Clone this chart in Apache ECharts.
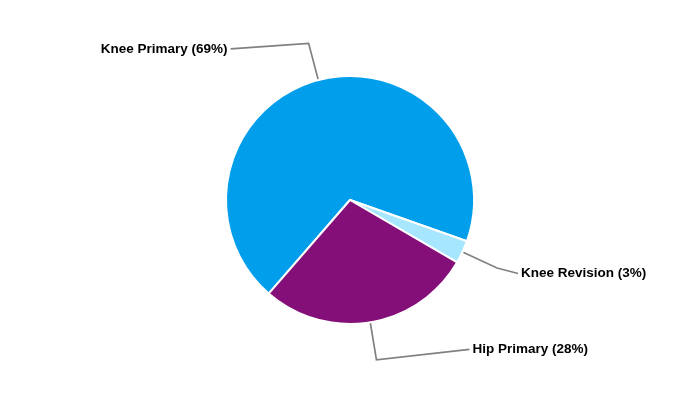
<!DOCTYPE html>
<html>
<head>
<meta charset="utf-8">
<script src="https://cdn.jsdelivr.net/npm/echarts@6/dist/echarts.min.js"></script>
<style>html,body{margin:0;padding:0;background:#fff;}#main{width:700px;height:400px;}</style>
</head>
<body>
<div id="main"></div>
<script>
const categories = ['Knee Primary', 'Knee Revision', 'Hip Primary'];
const values = [69, 3, 28];
const colors = ['#009EEB', '#A6E6FF', '#850F78'];
const labelLen2 = [78, 21, 93];
const labelDy = [5.5, 5.5, -10.5];

const chart = echarts.init(document.getElementById('main'));
chart.setOption({
  animation: false,
  series: [{
    type: 'pie',
    center: [350, 200],
    radius: 124,
    startAngle: 229,
    clockwise: true,
    data: categories.map((c, i) => ({
      name: c,
      value: values[i],
      itemStyle: { color: colors[i] },
      labelLine: { length2: labelLen2[i] }
    })),
    itemStyle: { borderColor: '#fff', borderWidth: 2 },
    label: {
      formatter: p => p.name + ' (' + p.value + '%)',
      color: '#000',
      fontWeight: 'bold',
      fontSize: 13.5,
      distanceToLabelLine: 3,
      fontFamily: 'Liberation Sans, Arial, sans-serif'
    },
    labelLine: {
      length: 38,
      lineStyle: { color: '#808080', width: 1.7 }
    },
    labelLayout: function (params) {
      const pts = params.labelLinePoints;
      const d = labelDy[params.dataIndex];
      if (!pts) return { dy: d };
      return {
        dy: d,
        labelLinePoints: [pts[0], pts[1], [pts[2][0], pts[2][1] + d]]
      };
    }
  }]
});
</script>
</body>
</html>
